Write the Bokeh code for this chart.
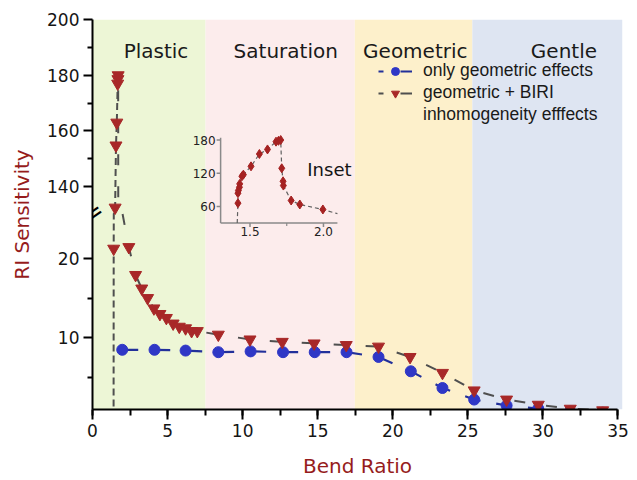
import math
from bokeh.plotting import figure
from bokeh.models import (Range1d, BoxAnnotation, Label, Legend, LegendItem, FixedTicker,
                          SingleIntervalTicker, CustomJSTickFormatter, CustomJSTransform,
                          ColumnDataSource)
from bokeh.transform import transform
from bokeh.core.properties import value
from bokeh.embed import file_html
from bokeh.resources import INLINE

# ---------------- data ----------------
band_names = ["Plastic", "Saturation", "Geometric", "Gentle"]
band_edges = [0.0, 7.53, 17.47, 25.3, 35.3]
band_colors = ["#EDF6D6", "#FCECEC", "#FDF0CB", "#DEE5F2"]
band_label_x = [4.23, 12.87, 21.5, 31.4]
band_label_y = [188.6, 188.6, 188.6, 188.6]

# only geometric effects
geo_x = [1.98, 4.13, 6.20, 8.38, 10.53, 12.69, 14.80, 16.92, 19.05, 21.20, 23.31,
         25.42, 27.58, 29.69, 31.82, 33.98]
geo_y = [8.5, 8.5, 8.4, 8.2, 8.3, 8.2, 8.2, 8.2, 7.6, 5.8, 3.7, 2.25, 1.5, 1.1, 0.75, 0.6]

# geometric + BIRI inhomogeneity effects (steep part)
inset_x = [1.418, 1.418, 1.421, 1.428, 1.430, 1.445, 1.455, 1.507, 1.564, 1.619,
           1.677, 1.694, 1.709, 1.716, 1.725, 1.727, 1.780, 1.839, 1.996]
inset_y = [66, 84, 89, 94.7, 100.8, 114.5, 117.5, 132.5, 154.8, 163, 177, 178.6,
           180, 129, 105.5, 97.8, 70.8, 63.6, 54.6]
biri_lead_x, biri_lead_y = [1.405], [0.0]
biri_head_x, biri_head_y = [1.412], [21.2]
biri_tail_x = [2.42, 2.87, 3.28, 3.67, 4.09, 4.49, 4.92, 5.37, 5.78, 6.20, 6.60, 6.98,
               8.38, 10.49, 12.64, 14.76, 16.90, 19.05, 21.15, 23.31, 25.42, 27.58,
               29.69, 31.82, 33.98]
biri_tail_y = [21.4, 17.9, 16.2, 15.0, 13.7, 13.0, 12.5, 11.8, 11.4, 11.2, 10.85, 10.85,
               10.4, 9.8, 9.5, 9.3, 9.1, 8.9, 7.6, 5.6, 3.4, 2.25, 1.6, 1.1, 0.9]
biri_x = biri_head_x + inset_x + biri_tail_x
biri_y = biri_head_y + inset_y + biri_tail_y
biri_peak = biri_y.index(max(biri_y))

# inset dashed line meets the inset frame here
inset_lead_x, inset_lead_y = [1.413], [30.0]
inset_tail_x, inset_tail_y = [2.095], [47.0]

y_major = [10, 20, 140, 160, 180, 200]
y_minor = [5, 15, 150, 170, 190]
inset_y_ticks = [60, 120, 180]
inset_x_ticks = [1.5, 2.0]
inset_x_minor = [1.75]

# ------------- broken y scale (1..25.6 | 130.4..200) -------------
LOW_START, LOW_END, LOW_SCALE = 1.0, 25.6, 8.0
HIGH_START, HIGH_SCALE = 130.4, 2.8
BREAK_DISP = 197.0


def to_disp(v):
    return (v - LOW_START) * LOW_SCALE if v <= LOW_END else BREAK_DISP + (v - HIGH_START) * HIGH_SCALE


scale_args = dict(lo0=LOW_START, lo1=LOW_END, lo_s=LOW_SCALE, hi0=HIGH_START,
                  hi_s=HIGH_SCALE, base=BREAK_DISP)
MAP_LINE = "(x <= lo1 ? (x - lo0) * lo_s : (x >= hi0 ? base + (x - hi0) * hi_s : base))"
MAP_PTS = "(x <= lo1 ? (x - lo0) * lo_s : (x >= hi0 ? base + (x - hi0) * hi_s : NaN))"


def make_transform(expr):
    return CustomJSTransform(
        args=scale_args,
        func="return " + expr + ";",
        v_func=("const out = new Float64Array(xs.length);"
                "for (let i = 0; i < xs.length; i++) { const x = xs[i]; out[i] = " + expr + "; }"
                "return out;"),
    )


brk_line = make_transform(MAP_LINE)
brk_pts = make_transform(MAP_PTS)

DARKRED = "#961C1C"
RED = "#A82828"
BLUE = "#2F37C6"
BLUE_LINE = "#22309A"
GREY = "#4F4F4F"
FONT = "DejaVu Sans"

p = figure(width=637, height=480, x_range=Range1d(0, 35.3),
           y_range=Range1d(0, to_disp(200)), output_backend="svg",
           toolbar_location=None, min_border_left=92, min_border_right=15,
           min_border_top=19, min_border_bottom=70)
p.outline_line_color = None
p.xgrid.visible = False
p.ygrid.visible = False
p.background_fill_color = "white"
p.border_fill_color = "white"

# bands
for i, c in enumerate(band_colors):
    p.add_layout(BoxAnnotation(left=band_edges[i], right=band_edges[i + 1], fill_color=c,
                               fill_alpha=1.0, line_alpha=0, level="underlay"))

band_src = ColumnDataSource(dict(x=band_label_x, y=band_label_y, t=band_names))
p.text(x="x", y=transform("y", brk_pts), text="t", source=band_src, text_align="center",
       text_baseline="alphabetic", text_font=value(FONT), text_font_size="20px",
       text_color="#1A1A1A")

# series
geo_src = ColumnDataSource(dict(x=geo_x, y=geo_y))
rise_src = ColumnDataSource(dict(x=biri_lead_x + biri_x[:biri_peak + 1],
                                 y=biri_lead_y + biri_y[:biri_peak + 1]))
fall_src = ColumnDataSource(dict(x=biri_x[biri_peak:], y=biri_y[biri_peak:]))
biri_src = ColumnDataSource(dict(x=biri_x, y=biri_y))

p.line("x", transform("y", brk_line), source=rise_src, line_color=GREY, line_width=2,
       line_dash="7 4")
p.line("x", transform("y", brk_line), source=fall_src, line_color=GREY, line_width=2,
       line_dash="11 21", line_dash_offset=17)
p.line("x", transform("y", brk_line), source=geo_src, line_color=BLUE_LINE,
       line_width=2.2, line_dash="16 16")
r_geo_pts = p.scatter("x", transform("y", brk_pts), source=geo_src, marker="circle", size=11,
                      fill_color=BLUE, line_color=BLUE)
r_biri_pts = p.scatter("x", transform("y", brk_pts), source=biri_src,
                       marker="inverted_triangle", size=12, fill_color=RED, line_color=RED)

# legend-only line samples (a single NaN point, so nothing shows in the plot)
nan = float("nan")
lg_geo = p.line(x=[nan], y=[nan], line_color=BLUE_LINE, line_width=2.2,
                line_dash="5 17 12 10")
lg_biri = p.line(x=[nan], y=[nan], line_color=GREY, line_width=2, line_dash="5 17 12 10")

# axes
p.xaxis.ticker = SingleIntervalTicker(interval=5, num_minor_ticks=2)
p.xaxis.bounds = (0, 35)
p.yaxis.ticker = FixedTicker(ticks=[to_disp(v) for v in y_major],
                             minor_ticks=[to_disp(v) for v in y_minor])
p.yaxis.formatter = CustomJSTickFormatter(
    args=scale_args,
    code="const v = tick < base ? tick / lo_s + lo0 : (tick - base) / hi_s + hi0;"
         " return Math.round(v).toString();")
for ax in (p.xaxis[0], p.yaxis[0]):
    ax.axis_line_width = 2
    ax.axis_line_color = "black"
    ax.major_tick_line_width = 2
    ax.minor_tick_line_width = 2
    ax.major_tick_in = 0
    ax.minor_tick_in = 0
    ax.major_label_text_font = FONT
    ax.major_label_text_font_size = "17px"
    ax.major_label_text_color = "#151515"
    ax.major_label_standoff = 4
    ax.axis_label_text_font = FONT
    ax.axis_label_text_font_size = "20px"
    ax.axis_label_text_font_style = "normal"
    ax.axis_label_text_color = DARKRED
p.xaxis.major_tick_out = 10
p.xaxis.minor_tick_out = 6
p.yaxis.major_tick_out = 9
p.yaxis.minor_tick_out = 5
p.xaxis.axis_label = "Bend Ratio"
p.xaxis.axis_label_standoff = 14
p.yaxis.axis_label = "RI Sensitivity"
p.yaxis.axis_label_standoff = 10

# axis break mark
p.add_layout(Label(x=0, y=BREAK_DISP, text="=", angle=0.6, text_align="center",
                   text_baseline="middle", text_font=FONT, text_font_size="26px",
                   text_color="black"))

# inset
ixs = Range1d(1.30, 2.095)
iys = Range1d(30, 184)
sub = p.subplot(x_source=ixs, y_source=iys,
                x_target=Range1d(8.533, 16.313), y_target=Range1d(187.3, 273.0))
sub.segment(x0=[ixs.start, ixs.start], y0=[iys.start, iys.start],
            x1=[ixs.end, ixs.start], y1=[iys.start, iys.end],
            line_color="#8A8A8A", line_width=1.5)
sub.ray(x=[ixs.start] * len(inset_y_ticks), y=inset_y_ticks, length=4, angle=math.pi,
        length_units="screen", line_color="#8A8A8A", line_width=1.5)
sub.ray(x=inset_x_ticks, y=[iys.start] * len(inset_x_ticks), length=4, angle=-math.pi / 2,
        length_units="screen", line_color="#8A8A8A", line_width=1.5)
sub.ray(x=inset_x_minor, y=[iys.start] * len(inset_x_minor), length=3, angle=-math.pi / 2,
        length_units="screen", line_color="#8A8A8A", line_width=1.2)
sub.text(x=[ixs.start] * len(inset_y_ticks), y=inset_y_ticks,
         text=[str(v) for v in inset_y_ticks], x_offset=-5, text_align="right",
         text_baseline="middle", text_font=value(FONT), text_font_size="12px",
         text_color="#222222")
sub.text(x=inset_x_ticks, y=[iys.start] * len(inset_x_ticks),
         text=["%.1f" % v for v in inset_x_ticks], y_offset=4, text_align="center",
         text_baseline="top", text_font=value(FONT), text_font_size="12px",
         text_color="#222222")
sub.line(inset_lead_x + inset_x + inset_tail_x, inset_lead_y + inset_y + inset_tail_y,
         line_color="#606060", line_width=1.2, line_dash="4 3")
sub.scatter(inset_x, inset_y, marker="diamond", size=9, fill_color="#A52222",
            line_color="#A52222")
sub.text(x=[1.89], y=[126.6], text=["Inset"], text_align="left",
         text_baseline="alphabetic", text_font=value(FONT), text_font_size="18px",
         text_color="#151515")

# legend
legend = Legend(items=[
    LegendItem(label="only geometric effects", renderers=[lg_geo, r_geo_pts]),
    LegendItem(label="geometric + BIRI", renderers=[lg_biri, r_biri_pts]),
    LegendItem(label="inhomogeneity efffects", renderers=[]),
], location=(286, 284), padding=0, margin=0, spacing=1, glyph_width=34, glyph_height=20,
    label_height=20, label_standoff=11, label_text_font="Liberation Sans",
    label_text_font_size="17.5px", label_text_color="#1A1A1A",
    background_fill_alpha=0, border_line_alpha=0)
p.add_layout(legend)

open("out.html", "w").write(file_html(p, INLINE))
